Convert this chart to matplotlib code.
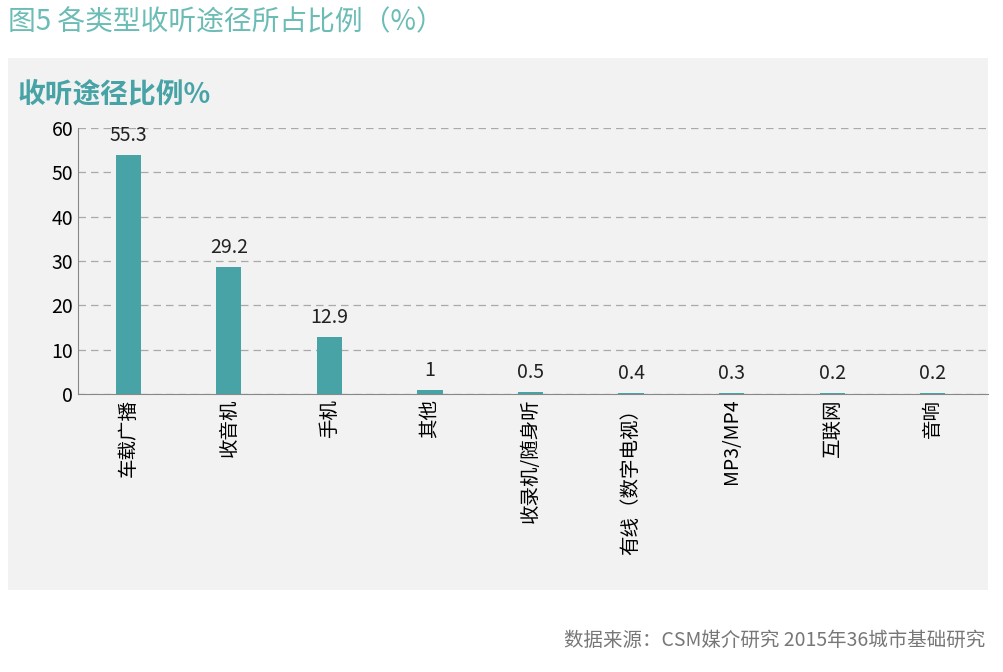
import matplotlib.pyplot as plt
from matplotlib.patches import Rectangle

plt.rcParams['font.family'] = ['Noto Sans CJK SC', 'DejaVu Sans']

categories = ["车载广播", "收音机", "手机", "其他", "收录机/随身听", "有线（数字电视）", "MP3/MP4", "互联网", "音响"]
values = [55.3, 29.2, 12.9, 1, 0.5, 0.4, 0.3, 0.2, 0.2]
bar_heights = [54.0, 28.7, 12.8, 0.9, 0.4, 0.3, 0.25, 0.2, 0.2]

teal = "#48a3a6"
fig = plt.figure(figsize=(10.04, 6.72), dpi=100)
fig.patches.append(Rectangle((8 / 1004, 1 - 590 / 672), 980 / 1004, 532 / 672,
                             transform=fig.transFigure, facecolor="#f2f2f2", edgecolor="none", zorder=-10))
fig.text(8 / 1004, 1 - 22 / 672, "图5 各类型收听途径所占比例（%）", fontsize=20, color="#6cbcb6", va="center")
fig.text(18 / 1004, 1 - 94 / 672, "收听途径比例%", fontsize=20, color=teal, fontweight="bold", va="center")
fig.text(985 / 1004, 1 - 640 / 672, "数据来源：CSM媒介研究 2015年36城市基础研究", fontsize=14, color="#777777",
         ha="right", va="center")

ax = fig.add_axes([78 / 1004, 1 - 394 / 672, 910 / 1004, 266 / 672])
ax.set_facecolor("none")
x = range(len(categories))
ax.bar(x, bar_heights, width=0.25, color=teal, zorder=3)
for i, v in enumerate(values):
    ax.text(i, bar_heights[i] + 2, f"{v:g}", ha="center", va="bottom", fontsize=14, color="#222222")
ax.set_xlim(-0.5, 8.55)
ax.set_ylim(0, 60)
ax.set_yticks(range(0, 61, 10))
ax.yaxis.grid(True, linestyle=(0, (6, 4)), color="#aaaaaa", linewidth=0.9)
ax.set_xticks(list(x))
ax.set_xticklabels(categories, rotation=90, fontsize=14)
ax.tick_params(axis="y", labelsize=14, length=0)
ax.tick_params(axis="x", length=0)
for s in ["top", "right"]:
    ax.spines[s].set_visible(False)
ax.spines["left"].set_color("#888888")
ax.spines["bottom"].set_color("#888888")

fig.savefig("out.png", dpi=100)
